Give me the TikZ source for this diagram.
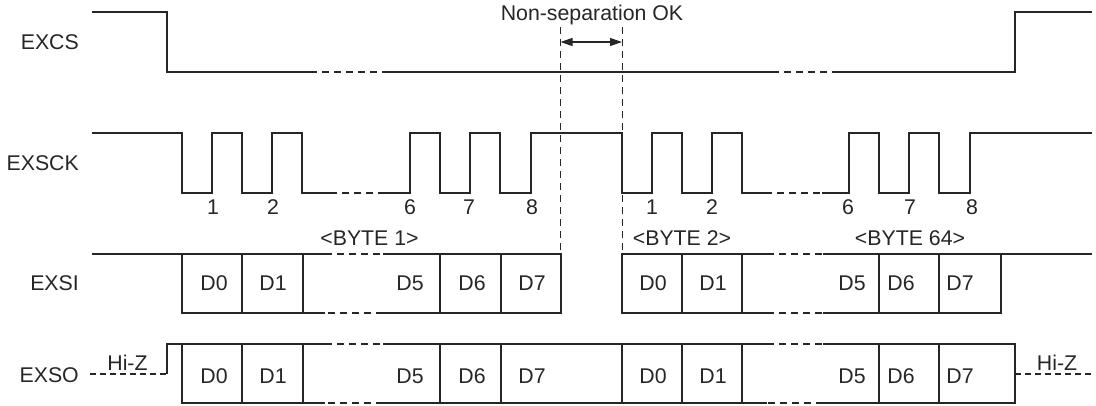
\documentclass[tikz,border=0pt]{standalone}
\usepackage{fontspec}
\setmainfont{Liberation Sans}
\usetikzlibrary{arrows.meta}
\begin{document}
\begin{tikzpicture}[x=1pt,y=-1pt,
  wave/.style={line width=1.7pt, line join=miter, black!85},
  gapline/.style={wave, dash pattern=on 7pt off 5pt},
  hiz/.style={line width=1.2pt, dash pattern=on 6pt off 4pt, black!85},
  guide/.style={line width=0.9pt, dash pattern=on 7pt off 5pt, black!85},
  lbl/.style={font=\fontsize{21.3}{25}\selectfont, inner sep=0pt, anchor=base, text=black!85},
  sig/.style={lbl, anchor=base east},
  tip/.style={line width=1.2pt, black!85, {Triangle[length=12pt,width=8pt]}-{Triangle[length=12pt,width=8pt]}}]
\useasboundingbox (0,0) rectangle (1096,405);

% signal names
\node[sig] (lcs)  at (79,49)  {EXCS};
\node[sig] (lsck) at (79,170) {EXSCK};
\node[sig] (lsi)  at (79,290) {EXSI};
\node[sig] (lso)  at (79,382) {EXSO};

% EXCS
\draw[wave] (92,12) -- (167,12) -- (167,72) -- (310,72);
\draw[gapline] (310,72) -- (385,72);
\draw[wave] (385,72) -- (772,72);
\draw[gapline] (772,72) -- (835,72);
\draw[wave] (835,72) -- (1015,72) -- (1015,12) -- (1092,12);

% EXSCK
\draw[wave] (92,133) -| (182,193) -| (212,133) -| (242,193) -| (272,133) -| (302,193) -- (330,193);
\draw[gapline] (330,193) -- (385,193);
\draw[wave] (385,193) -| (410,133) -| (440,193) -| (470,133) -| (500,193) -| (531,133) -| (622,193) -| (652,133) -| (682,193) -| (712,133) -| (742,193) -- (765,193);
\draw[gapline] (765,193) -- (822,193);
\draw[wave] (822,193) -| (849,133) -| (879,193) -| (909,133) -| (939,193) -| (970,133) -- (1092,133);

% clock numbers
\foreach \n/\x in {1/213,2/273,6/410,7/469,8/532,1/652,2/712,6/848,7/910,8/972}
  \node[lbl] at (\x,214) {\n};

% byte labels
\node[lbl] (b1)  at (369.5,245) {<BYTE 1>};
\node[lbl] (b2)  at (682,245)   {<BYTE 2>};
\node[lbl] (b64) at (910,245)   {<BYTE 64>};

% guides and arrow
\coordinate (g1t) at (560.5,27);
\coordinate (g1b) at (560.5,254);
\coordinate (g2t) at (622,27);
\coordinate (g2b) at (622,254);
\draw[guide] (g1t) -- (g1b);
\draw[guide] (g2t) -- (g2b);
\coordinate (a1) at (560.5,42);
\coordinate (a2) at (622,42);
\draw[tip] (a1) -- (a2);
\node[lbl] (nsep) at (592,20) {Non-separation OK};

% EXSI
\draw[wave] (92,254) -- (325,254);
\draw[gapline] (325,254) -- (383,254);
\draw[wave] (383,254) -- (561,254) -- (561,313) -- (383,313);
\draw[gapline] (383,313) -- (325,313);
\draw[wave] (325,313) -- (182,313) -- (182,254);
\foreach \x in {242,303,440,501} \draw[wave] (\x,254) -- (\x,313);
\draw[wave] (767,254) -- (622,254) -- (622,313) -- (767,313);
\draw[gapline] (767,254) -- (823,254);
\draw[gapline] (767,313) -- (823,313);
\draw[wave] (823,254) -- (1092,254);
\draw[wave] (823,313) -- (1001,313) -- (1001,254);
\foreach \x in {682,742,879,939} \draw[wave] (\x,254) -- (\x,313);

% EXSO
\draw[hiz] (90,374) -- (167,374);
\draw[wave] (167,374) -- (167,344) -- (325,344);
\draw[gapline] (325,344) -- (383,344);
\draw[wave] (383,344) -- (767,344);
\draw[gapline] (767,344) -- (823,344);
\draw[wave] (823,344) -- (1015,344) -- (1015,403) -- (823,403);
\draw[gapline] (823,403) -- (767,403);
\draw[wave] (767,403) -- (383,403);
\draw[gapline] (383,403) -- (325,403);
\draw[wave] (325,403) -- (182,403) -- (182,344);
\foreach \x in {242,303,440,501,622,682,742,879,939} \draw[wave] (\x,344) -- (\x,403);
\draw[hiz] (1015,374) -- (1092,374);
\node[lbl] (hz1) at (127.5,370) {Hi-Z};
\node[lbl] (hz2) at (1057,370) {Hi-Z};

% data labels
\foreach \t/\x in {D0/214,D1/273,D5/410,D6/472,D7/532,D0/653,D1/713,D5/852,D6/901,D7/960} {
  \node[lbl] at (\x,290) {\t};
  \node[lbl] at (\x,383) {\t};
}
\end{tikzpicture}
\end{document}
